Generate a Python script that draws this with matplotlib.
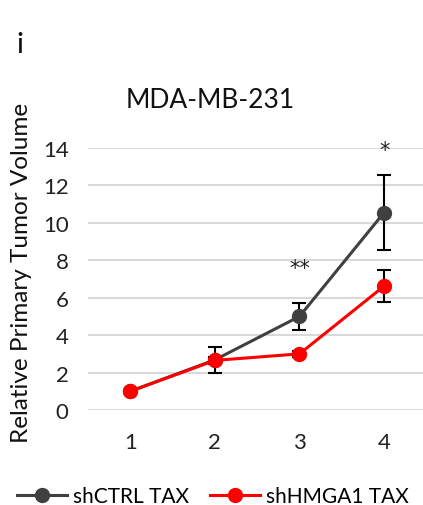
import matplotlib
matplotlib.use("Agg")
import matplotlib.pyplot as plt
from matplotlib.lines import Line2D

days = [1, 2, 3, 4]
ctrl_mean = [1.0, 2.68, 5.0, 10.55]
ctrl_err = [0.0, 0.7, 0.7, 2.02]
hmga_mean = [1.0, 2.65, 3.0, 6.62]
hmga_err = [0.0, 0.2, 0.15, 0.85]
sig_labels = ["", "", "**", "*"]
sig_y = [0, 0, 7.6, 13.9]
yticks = [0, 2, 4, 6, 8, 10, 12, 14]

plt.rcParams['font.family'] = ['Lato', 'DejaVu Sans']

fig = plt.figure(figsize=(4.23, 5.06), dpi=100)
ax = fig.add_axes([88/423, 1-411/506, 1-88/423, (411-149)/506])

grey = '#404040'
red = '#ff0000'

ax.errorbar(days, hmga_mean, yerr=hmga_err, color=red, lw=2.2, marker='o', ms=10,
            ecolor='black', elinewidth=1.5, capsize=5, capthick=1.5, zorder=3,
            label='shHMGA1 TAX')
ax.errorbar(days, ctrl_mean, yerr=ctrl_err, color=grey, lw=2.2, marker='o', ms=10,
            ecolor='black', elinewidth=1.5, capsize=5, capthick=1.5, zorder=2,
            label='shCTRL TAX')

for x, s, y in zip(days, sig_labels, sig_y):
    if s:
        ax.text(x, y, s, ha='center', va='center', fontsize=15, color='#222222',
                family='DejaVu Sans', clip_on=False)

ax.set_xlim(0.5, 4.46)
ax.set_ylim(0, 14)
ax.set_yticks(yticks)
ax.set_xticks(days)
ax.grid(axis='y', color='#d9d9d9', lw=1.5)
ax.set_axisbelow(True)
for sp in ax.spines.values():
    sp.set_visible(False)
ax.tick_params(length=0, labelsize=16, colors='#222222')
ax.tick_params(axis='y', pad=14)
ax.tick_params(axis='x', pad=16)

fig.text(210/423, 1-100/506, 'MDA-MB-231', ha='center', va='center', fontsize=19, color='#111111')
fig.text(20/423, 1-45/506, 'i', ha='center', va='center', fontsize=21, color='#111111')
fig.text(22/423, 1-273/506, 'Relative Primary Tumor Volume', rotation=90, ha='center', va='center',
         fontsize=17.5, color='#111111')

h2 = [Line2D([], [], color=grey, lw=2.2, marker='o', ms=10),
      Line2D([], [], color=red, lw=2.2, marker='o', ms=10)]
fig.legend(h2, ['shCTRL TAX', 'shHMGA1 TAX'], loc='center', bbox_to_anchor=(213/423, 1-497/506),
           ncol=2, frameon=False, fontsize=15, handlelength=2.4, columnspacing=1.0,
           handletextpad=0.3, borderpad=0, borderaxespad=0)

fig.savefig('out.png', dpi=100)
